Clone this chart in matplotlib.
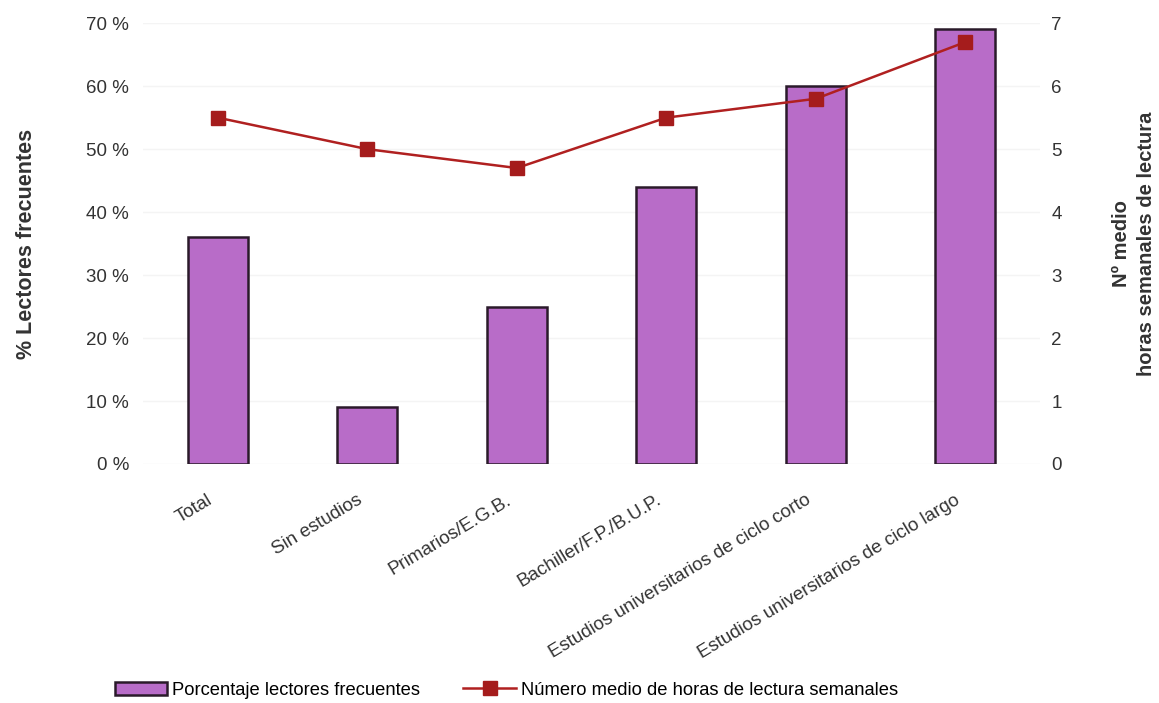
import numpy as np
import matplotlib.pyplot as plt
import matplotlib.transforms as mtransforms
from matplotlib.ticker import FuncFormatter

plt.rcParams['font.family'] = ['Liberation Sans', 'DejaVu Sans']

# Data
categories = ['Total', 'Sin estudios', 'Primarios/E.G.B.', 'Bachiller/F.P./B.U.P.',
              'Estudios universitarios de ciclo corto',
              'Estudios universitarios de ciclo largo']
pct_lectores = [36, 9, 25, 44, 60, 69]
horas_semanales = [5.5, 5.0, 4.7, 5.5, 5.8, 6.7]

bar_color = '#B86CC8'
line_color = '#B02020'
text_color = '#333333'

fig = plt.figure(figsize=(11.59, 7.03), dpi=100)
ax = fig.add_axes([0.1234, 0.34, 0.7740, 0.627])
ax2 = ax.twinx()

x = np.arange(len(categories))
bars = ax.bar(x, pct_lectores, width=0.4, color=bar_color, edgecolor='#2a1a2a',
              linewidth=1.8, label='Porcentaje lectores frecuentes', zorder=2)
line, = ax2.plot(x, horas_semanales, color=line_color, linewidth=1.8, marker='s',
                 markersize=10, markerfacecolor='#A51C1C', markeredgecolor='#A51C1C',
                 label='Número medio de horas de lectura semanales', zorder=3)

ax.set_xlim(-0.5, 5.5)
ax.set_ylim(0, 70)
ax2.set_ylim(0, 7)
ax.set_yticks(range(0, 71, 10))
ax2.set_yticks(range(0, 8))
ax.yaxis.set_major_formatter(FuncFormatter(lambda v, p: f'{int(v)} %'))
ax.grid(axis='y', color='#f4f4f4', linewidth=1, zorder=0)

# slanted category labels, drawn as texts so they can sit a little left of centre
ax.set_xticks(x)
ax.set_xticklabels([])
offset = mtransforms.ScaledTranslation(-8 / 72, -20 / 72, fig.dpi_scale_trans)
for i, cat in enumerate(categories):
    ax.text(x[i], 0, cat, transform=ax.get_xaxis_transform() + offset,
            rotation=31, rotation_mode='anchor', ha='right', va='top',
            fontsize=13.5, color=text_color)

for a in (ax, ax2):
    for s in a.spines.values():
        s.set_visible(False)
    a.tick_params(length=0, colors=text_color)
    a.tick_params(axis='y', labelsize=13.5)
ax.tick_params(axis='y', pad=10)
ax2.tick_params(axis='y', pad=8)

ax.set_ylabel('% Lectores frecuentes', fontsize=15.5, fontweight='bold',
              color=text_color)
ax.yaxis.set_label_coords(-0.118, 0.5)
ax2.set_ylabel('Nº medio\nhoras semanales de lectura', fontsize=14.5,
               fontweight='bold', color=text_color, linespacing=1.4)
ax2.yaxis.set_label_coords(1.080, 0.5)

fig.legend(handles=[bars, line], loc='center', bbox_to_anchor=(0.437, 0.018),
           ncol=2, frameon=False, fontsize=13.2, handlelength=2.85,
           handletextpad=0.27, columnspacing=2.35)

fig.savefig('out.png', dpi=100)
